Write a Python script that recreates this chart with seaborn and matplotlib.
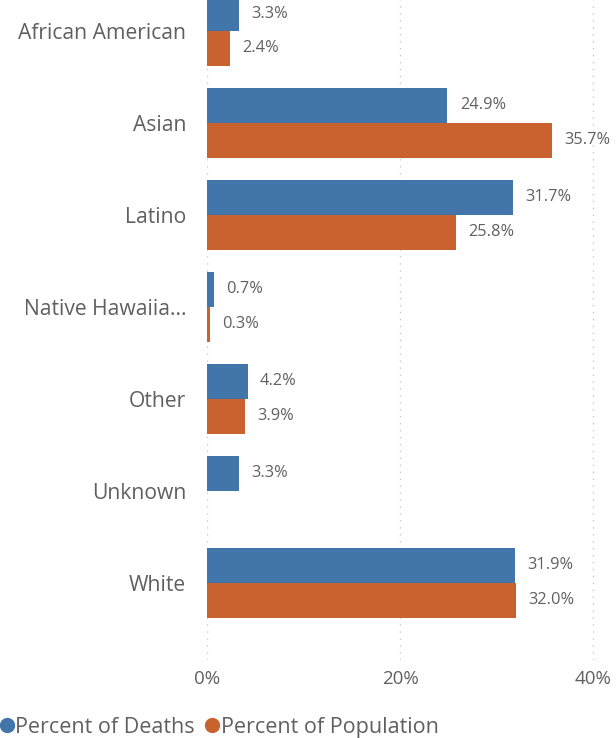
import matplotlib
matplotlib.use("Agg")
import matplotlib.pyplot as plt
import seaborn as sns
import pandas as pd
import numpy as np
from matplotlib.lines import Line2D

categories = ["African American", "Asian", "Latino", "Native Hawaiia...", "Other", "Unknown", "White"]
deaths = [3.3, 24.9, 31.7, 0.7, 4.2, 3.3, 31.9]
population = [2.4, 35.7, 25.8, 0.3, 3.9, np.nan, 32.0]
series = ["Percent of Deaths", "Percent of Population"]
xticks = [0, 20, 40]
xtick_labels = ["0%", "20%", "40%"]

blue = "#4275AA"
orange = "#C9622F"
text_c = "#606060"

df = pd.DataFrame({
    "cat": categories * 2,
    "series": [series[0]] * len(categories) + [series[1]] * len(categories),
    "val": deaths + population,
})

sns.set_theme(style="white")
plt.rcParams["font.family"] = ["Open Sans", "DejaVu Sans"]

fig = plt.figure(figsize=(6.16, 7.38), dpi=100)
ax = fig.add_axes([207 / 616, 1 - 660 / 738, 393 / 616, 660 / 738])

sns.barplot(data=df, y="cat", x="val", hue="series", orient="h",
            palette=[blue, orange], width=0.76, gap=0, ax=ax, legend=False,
            saturation=1, order=categories, hue_order=series, linewidth=0)

for cont in ax.containers:
    labels = ["" if np.isnan(v) else f"{v:.1f}%" for v in cont.datavalues]
    ax.bar_label(cont, labels=labels, padding=9, fontsize=11.8, color=text_c)

ax.set_xlim(0, 40.7)
ax.set_ylim(6.84, -0.337)
ax.set_xticks(xticks)
ax.set_xticklabels(xtick_labels, fontsize=13.5, color=text_c)
ax.tick_params(axis="x", length=0, pad=7)
ax.tick_params(axis="y", length=0, pad=15, labelsize=15.2, labelcolor=text_c)
ax.set_xlabel("")
ax.set_ylabel("")
for s in ax.spines.values():
    s.set_visible(False)
for x in xticks:
    ax.axvline(x, color="#C8C8C8", linestyle=(0, (1, 4)), linewidth=1, zorder=0)

handles = [Line2D([0], [0], marker="o", linestyle="", markersize=10, markerfacecolor=c, markeredgecolor=c)
           for c in [blue, orange]]
fig.legend(handles, series, loc="lower left", bbox_to_anchor=(-0.038, -0.026), ncol=2, frameon=False,
           fontsize=15.5, labelcolor=text_c, handletextpad=-0.1, columnspacing=0.3, handlelength=1.0)

fig.savefig("out.png", dpi=100)
